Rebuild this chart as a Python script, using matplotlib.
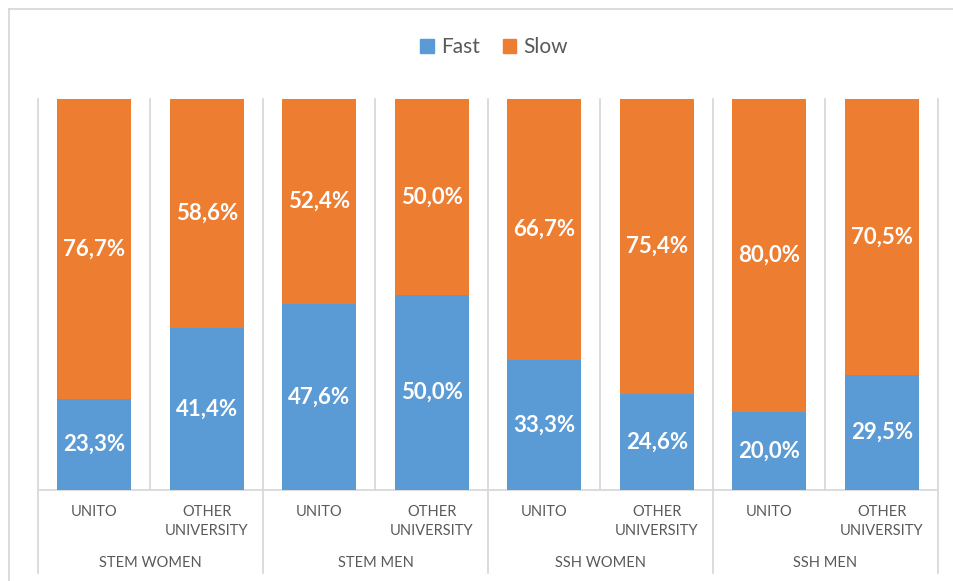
import matplotlib.pyplot as plt
from matplotlib.lines import Line2D
from matplotlib.patches import Patch
import numpy as np

plt.rcParams['font.family'] = ['Lato', 'DejaVu Sans']

universities = ['UNITO', 'OTHER\nUNIVERSITY'] * 4
groups = ['STEM WOMEN', 'STEM MEN', 'SSH WOMEN', 'SSH MEN']
fast = [23.3, 41.4, 47.6, 50.0, 33.3, 24.6, 20.0, 29.5]
slow = [76.7, 58.6, 52.4, 50.0, 66.7, 75.4, 80.0, 70.5]

BLUE = '#5B9BD5'
ORANGE = '#ED7D31'
GRID = '#D9D9D9'
TEXT = '#595959'

W, H = 954, 581
fig = plt.figure(figsize=(W / 100, H / 100), dpi=100)
ax = fig.add_axes([38 / W, 1 - 490 / H, 900 / W, 391 / H])

x = np.arange(len(fast))
ax.bar(x, fast, width=0.66, color=BLUE, zorder=2)
ax.bar(x, slow, width=0.66, bottom=fast, color=ORANGE, zorder=2)

fmt = lambda v: f'{v:.1f}'.replace('.', ',') + '%'
for i in x:
    ax.text(i, fast[i] / 2, fmt(fast[i]), ha='center', va='center',
            color='white', fontsize=16, fontweight='bold', zorder=3)
    ax.text(i, fast[i] + slow[i] / 2, fmt(slow[i]), ha='center', va='center',
            color='white', fontsize=16, fontweight='bold', zorder=3)

ax.set_xlim(-0.5, len(fast) - 0.5)
ax.set_ylim(0, 100)
ax.axis('off')

# separators: group boundaries run down through the labels
for k in range(len(fast) + 1):
    xx = k - 0.5
    y0 = -83 / 391 * 100 if k % 2 == 0 else 0
    ax.add_line(Line2D([xx, xx], [y0, 100], color=GRID, lw=1.3,
                       clip_on=False, zorder=1))
ax.add_line(Line2D([-0.5, len(fast) - 0.5], [0, 0], color=GRID, lw=1.3,
                   clip_on=False, zorder=1))

# category labels
for i, lab in enumerate(universities):
    ax.text(i, -15 / 391 * 100, lab, ha='center', va='top', color=TEXT,
            fontsize=10.5, linespacing=1.45, clip_on=False)
for g, lab in enumerate(groups):
    ax.text(2 * g + 0.5, -73 / 391 * 100, lab, ha='center', va='center',
            color=TEXT, fontsize=10.5, clip_on=False)

# legend
handles = [Patch(color=BLUE, label='Fast'), Patch(color=ORANGE, label='Slow')]
fig.legend(handles=handles, loc='center', bbox_to_anchor=(494 / W, 1 - 47 / H),
           ncol=2, frameon=False, fontsize=15, handlelength=0.65,
           handleheight=0.65, handletextpad=0.35, columnspacing=1.1,
           labelcolor=TEXT)

# outer chart frame (only top and left edges visible)
fig.add_artist(Line2D([9 / W, 1], [1 - 9 / H, 1 - 9 / H], color=GRID, lw=1.3,
                      transform=fig.transFigure))
fig.add_artist(Line2D([9 / W, 9 / W], [0, 1 - 9 / H], color=GRID, lw=1.3,
                      transform=fig.transFigure))

fig.savefig('out.png', dpi=100)
